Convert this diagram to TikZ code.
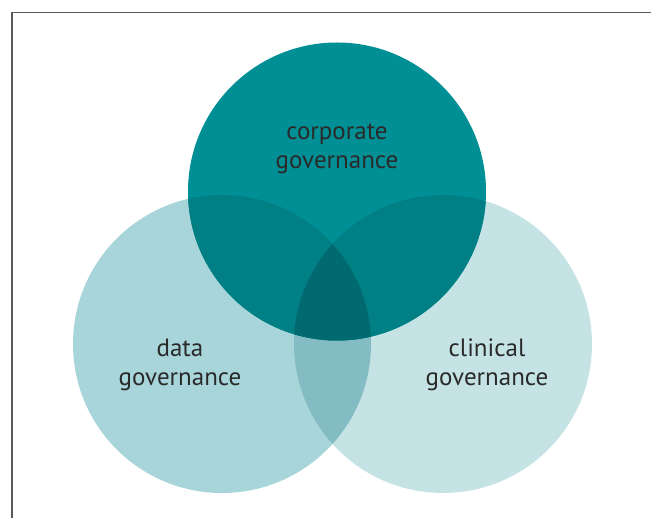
\documentclass[tikz,border=0pt]{standalone}
\usepackage{fontspec}
\setmainfont{PT Sans}
\usepackage{tikz}
\definecolor{corp}{HTML}{008F95}
\definecolor{dat}{HTML}{A8D5DA}
\definecolor{clin}{HTML}{C5E3E5}
\definecolor{dc}{HTML}{83BCC2}
\definecolor{cd}{HTML}{007F85}
\definecolor{cc}{HTML}{008085}
\definecolor{all}{HTML}{006A70}
\definecolor{txt}{HTML}{2A2A2A}
\tikzset{
	lbl/.style={text=txt, align=center, font=\fontsize{25}{29}\selectfont},
	frame/.style={draw=black!65, line width=1.4pt},
}

\begin{document}
\begin{tikzpicture}[x=1pt,y=-1pt]
	\useasboundingbox (0,0) rectangle (651,518);

	\coordinate (T) at (337,191.5);
	\coordinate (L) at (222,344);
	\coordinate (R) at (443,344);
	\def\rad{149}

	\fill [dat] (L) circle[radius=\rad];
	\fill [clin] (R) circle[radius=\rad];
	\fill [corp] (T) circle[radius=\rad];

	% overlaps
	\begin{scope}
		\clip (L) circle[radius=\rad];
		\fill [dc] (R) circle[radius=\rad];
		\fill [cd] (T) circle[radius=\rad];
	\end{scope}
	\begin{scope}
		\clip (R) circle[radius=\rad];
		\fill [cc] (T) circle[radius=\rad];
		\clip (L) circle[radius=\rad];
		\fill [all] (T) circle[radius=\rad];
	\end{scope}

	\draw [frame] (12,518) -- (12,12.5) -- (651,12.5);

	\node [lbl] (corpl) at (337,148.5) {corporate\\governance};
	\node [lbl] (datl) at (180,365) {data\\governance};
	\node [lbl] (clinl) at (487,365) {clinical\\governance};
\end{tikzpicture}
\end{document}
